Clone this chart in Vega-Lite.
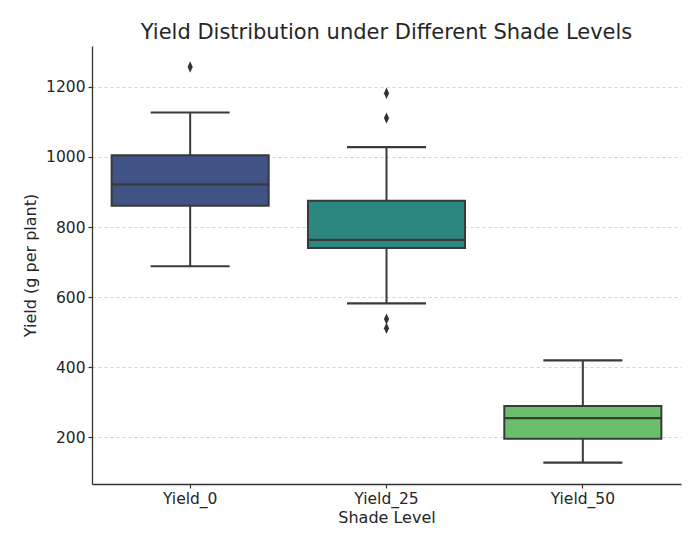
{
  "$schema": "https://vega.github.io/schema/vega-lite/v6.json",
  "width": 589,
  "height": 438,
  "autosize": {"type": "none"},
  "padding": {"left": 92, "top": 46, "right": 19, "bottom": 58},
  "background": "white",
  "title": {
    "text": "Yield Distribution under Different Shade Levels",
    "fontSize": 21,
    "fontWeight": "normal",
    "font": "DejaVu Sans",
    "color": "#262626",
    "anchor": "middle",
    "offset": 3
  },
  "config": {
    "view": {"stroke": null},
    "font": "DejaVu Sans",
    "axis": {
      "labelFont": "DejaVu Sans",
      "titleFont": "DejaVu Sans",
      "labelFontSize": 15.5,
      "titleFontSize": 16,
      "titleFontWeight": "normal",
      "labelColor": "#262626",
      "titleColor": "#262626",
      "domainColor": "#333333",
      "domainWidth": 1.3,
      "tickColor": "#333333",
      "tickSize": 4,
      "tickWidth": 1.2,
      "labelPadding": 3
    }
  },
  "datasets": {
    "boxes": [
      {"shade": "Yield_0", "lower": 688, "q1": 861, "median": 922, "q3": 1005, "upper": 1127},
      {"shade": "Yield_25", "lower": 582, "q1": 740, "median": 763, "q3": 875, "upper": 1028},
      {"shade": "Yield_50", "lower": 127, "q1": 195, "median": 254, "q3": 289, "upper": 419}
    ],
    "outliers": [
      {"shade": "Yield_0", "value": 1257},
      {"shade": "Yield_25", "value": 1182},
      {"shade": "Yield_25", "value": 1111},
      {"shade": "Yield_25", "value": 537},
      {"shade": "Yield_25", "value": 511}
    ]
  },
  "encoding": {
    "x": {
      "field": "shade",
      "type": "nominal",
      "sort": ["Yield_0", "Yield_25", "Yield_50"],
      "scale": {"paddingInner": 0, "paddingOuter": 0},
      "axis": {"title": "Shade Level", "labelAngle": 0, "titlePadding": 3, "grid": false}
    }
  },
  "layer": [
    {
      "data": {"name": "boxes"},
      "mark": {"type": "rule", "color": "#3a3a3a", "strokeWidth": 2},
      "encoding": {
        "y": {
          "field": "lower",
          "type": "quantitative",
          "scale": {"domain": [66, 1317], "nice": false, "zero": false},
          "axis": {
            "title": "Yield (g per plant)",
            "values": [200, 400, 600, 800, 1000, 1200],
            "format": "d",
            "grid": true,
            "gridColor": "#c8c8c8",
            "gridDash": [3, 3],
            "gridWidth": 0.8,
            "titlePadding": 7
          }
        },
        "y2": {"field": "upper"}
      }
    },
    {
      "data": {"name": "boxes"},
      "mark": {"type": "bar", "stroke": "#3a3a3a", "strokeWidth": 2, "width": {"band": 0.8}},
      "encoding": {
        "y": {"field": "q1", "type": "quantitative"},
        "y2": {"field": "q3"},
        "fill": {
          "field": "shade",
          "type": "nominal",
          "scale": {"domain": ["Yield_0", "Yield_25", "Yield_50"], "range": ["#415285", "#2c8780", "#6abf6a"]},
          "legend": null
        }
      }
    },
    {
      "data": {"name": "boxes"},
      "mark": {"type": "tick", "color": "#3a3a3a", "size": 157, "thickness": 2.2, "opacity": 1},
      "encoding": {"y": {"field": "median", "type": "quantitative"}}
    },
    {
      "data": {"name": "boxes"},
      "mark": {"type": "tick", "color": "#3a3a3a", "size": 79, "thickness": 2.2, "opacity": 1},
      "encoding": {"y": {"field": "lower", "type": "quantitative"}}
    },
    {
      "data": {"name": "boxes"},
      "mark": {"type": "tick", "color": "#3a3a3a", "size": 79, "thickness": 2.2, "opacity": 1},
      "encoding": {"y": {"field": "upper", "type": "quantitative"}}
    },
    {
      "data": {"name": "outliers"},
      "mark": {"type": "point", "shape": "M0,-1L0.45,0L0,1L-0.45,0Z", "filled": true, "color": "#333333", "size": 130, "opacity": 1},
      "encoding": {"y": {"field": "value", "type": "quantitative"}}
    }
  ]
}
